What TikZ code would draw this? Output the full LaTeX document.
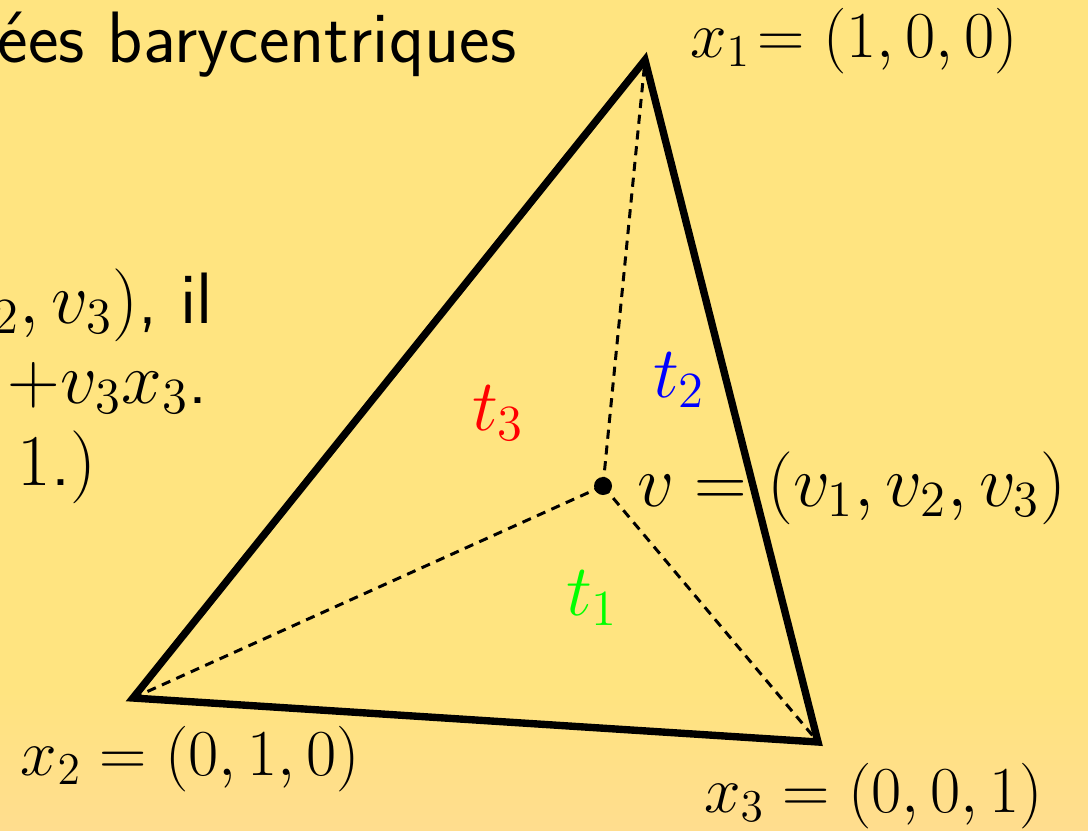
\documentclass[tikz,border=0pt]{standalone}
\usepackage{fontspec}
\definecolor{bgtop}{RGB}{255,228,128}
\definecolor{bgbot}{RGB}{255,221,142}
\definecolor{tgreen}{RGB}{0,255,0}
\begin{document}
\begin{tikzpicture}[x=0.01cm,y=-0.01cm,
  every node/.style={inner sep=0pt,outer sep=0pt,font=\fontsize{20.7}{24}\selectfont},
  tri/.style={line width=2.1pt,line join=miter},
  dashline/.style={line width=0.85pt,dash pattern=on 2.6pt off 1.9pt},
  lbl/.style={anchor=base west},
  vlbl/.style={anchor=base west,scale=0.9},
  txt/.style={font=\fontsize{20.7}{24}\selectfont\sffamily}]
\useasboundingbox (0,0) rectangle (1088,830);
\clip (0,0) rectangle (1088,830);
\fill[bgtop] (0,0) rectangle (1088,690);
\shade[top color=bgtop,bottom color=bgbot] (0,689) rectangle (1088,830);
% vertices
\coordinate (x1) at (645,60);
\coordinate (x2) at (133,698);
\coordinate (x3) at (818,742);
\coordinate (v) at (603,486);
% slide text (clipped at left)
\node[lbl,txt] (title) at (-2,62) {ées barycentriques};
\node[anchor=base east,txt] (l2) at (213,323) {${}_2, v_3)$, il};
\node[lbl,txt] (l3) at (8,403) {$+v_3x_3$.};
\node[lbl,txt] (l4) at (18,485) {$1$.$)$};
% triangle
\draw[dashline] (v) -- (x1);
\draw[dashline] (v) -- (x2);
\draw[dashline] (v) -- (x3);
\draw[tri] (x1) -- (x2) -- (x3) -- cycle;
\fill (v) circle[radius=9];
% labels
\node[vlbl] (lx1) at (690,57) {$x_1\!= (1,0,0)$};
\node[vlbl] (lx2) at (21,775) {$x_2 = (0,1,0)$};
\node[vlbl] (lx3) at (704,812) {$x_3 = (0,0,1)$};
\node[lbl] (lv) at (637,506) {$v=(v_1,v_2,v_3)$};
\node[lbl,red] (t3) at (472,430) {$t_3$};
\node[lbl,blue] (t2) at (653,397) {$t_2$};
\node[lbl,tgreen] (t1) at (566,615) {$t_1$};
\end{tikzpicture}
\end{document}
